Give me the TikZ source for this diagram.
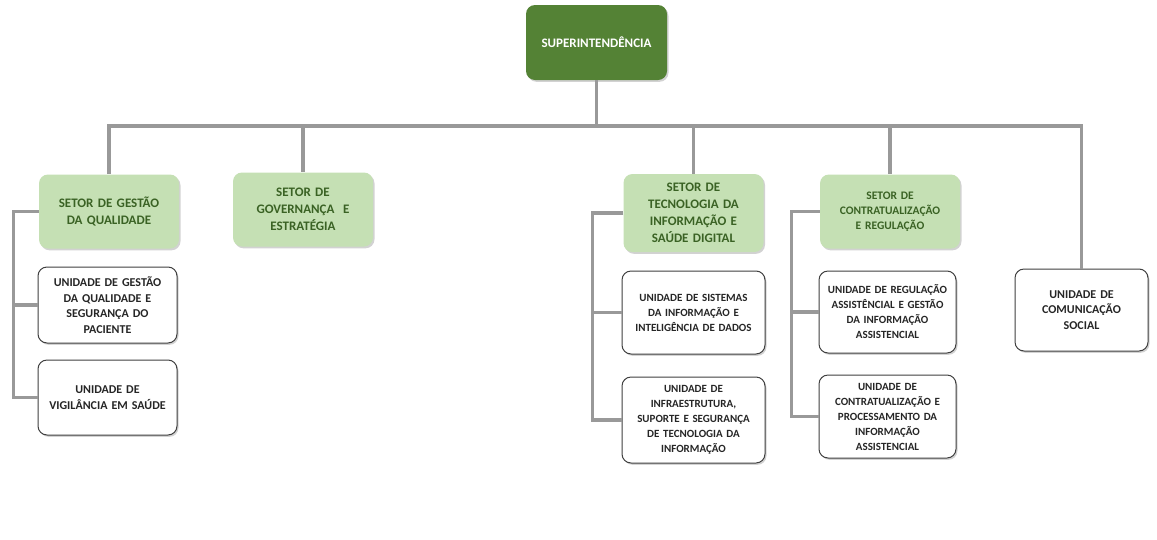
\documentclass[tikz,border=0pt]{standalone}
\usepackage{fontspec}
\setmainfont{Carlito}
\usetikzlibrary{shadows}

\definecolor{darkgreen}{HTML}{548235}
\definecolor{lightgreen}{HTML}{C5E0B4}
\definecolor{sectortext}{HTML}{3A6224}
\definecolor{linkgray}{HTML}{999999}
\definecolor{unittext}{HTML}{262626}

\tikzset{
  box/.style={rounded corners=9pt, align=center, inner sep=2pt,
    drop shadow={shadow xshift=1.5pt, shadow yshift=-1.8pt, opacity=0.35}},
  head/.style={box, fill=darkgreen, text=white, text width=137pt, minimum height=75pt,
    font=\bfseries\fontsize{13}{16}\selectfont},
  sector/.style={box, fill=lightgreen, text=sectortext, text width=136pt, minimum height=74pt,
    font=\bfseries\fontsize{13}{17}\selectfont},
  unit/.style={box, draw=black!75, line width=1pt, fill=white, text=unittext,
    text width=135pt, minimum height=80pt, font=\bfseries\fontsize{11}{15}\selectfont},
  link/.style={draw=linkgray, line width=3.8pt}
}

\begin{document}
\begin{tikzpicture}[x=1pt, y=-1pt]
  \fill[white] (0,0) rectangle (1157,539);
  \useasboundingbox (0,0) rectangle (1157,539);

  \coordinate (hub) at (596.5,126);

  \node[head] (sup) at (596.5,42.5) {SUPERINTENDÊNCIA};

  \node[sector] (sgq) at (109,211.5) {SETOR DE GESTÃO\\DA QUALIDADE};
  \node[sector] (sge) at (303,209.5) {SETOR DE\\GOVERNANÇA\ \ E\\ESTRATÉGIA};
  \node[sector, minimum height=78pt] (sti) at (693.5,213) {SETOR DE\\TECNOLOGIA DA\\INFORMAÇÃO E\\SAÚDE DIGITAL};
  \node[sector, font=\bfseries\fontsize{11.5}{15}\selectfont] (scr) at (890,211.5) {SETOR DE\\CONTRATUALIZAÇÃO\\E REGULAÇÃO};

  \node[unit, minimum height=76pt, font=\bfseries\fontsize{12}{15.5}\selectfont] (uqs) at (107.5,305) {UNIDADE DE GESTÃO\\DA QUALIDADE E\\SEGURANÇA DO\\PACIENTE};
  \node[unit, minimum height=75pt, font=\bfseries\fontsize{12}{15.5}\selectfont] (uvs) at (107.5,397.5) {UNIDADE DE\\VIGILÂNCIA EM SAÚDE};

  \node[unit, text width=139pt, minimum height=83pt] (usi) at (693.5,312.5) {UNIDADE DE SISTEMAS\\DA INFORMAÇÃO E\\INTELIGÊNCIA DE DADOS};
  \node[unit, text width=139pt, minimum height=86pt] (uif) at (693.5,420) {UNIDADE DE\\INFRAESTRUTURA,\\SUPORTE E SEGURANÇA\\DE TECNOLOGIA DA\\INFORMAÇÃO};

  \node[unit, text width=133pt, minimum height=82pt] (ura) at (887.5,312) {UNIDADE DE REGULAÇÃO\\ASSISTÊNCIAL E GESTÃO\\DA INFORMAÇÃO\\ASSISTENCIAL};
  \node[unit, text width=133pt, minimum height=83pt] (ucp) at (887.5,416.5) {UNIDADE DE\\CONTRATUALIZAÇÃO E\\PROCESSAMENTO DA\\INFORMAÇÃO\\ASSISTENCIAL};

  \node[unit, text width=129pt, minimum height=82pt, font=\bfseries\fontsize{12}{15.5}\selectfont] (ucs) at (1081.5,310) {UNIDADE DE\\COMUNICAÇÃO\\SOCIAL};

  \draw[link] (sup.south) -- (hub);
  \foreach \n in {sgq,sge,sti,scr,ucs}
    \draw[link] (hub) -| (\n.north);

  \draw[link] (sgq.west) -| ([xshift=-24pt]uvs.west) -- (uvs.west);
  \draw[link] ([xshift=-24pt]uqs.west) -- (uqs.west);

  \draw[link] (sti.west) -| ([xshift=-29pt]uif.west) -- (uif.west);
  \draw[link] ([xshift=-29pt]usi.west) -- (usi.west);

  \draw[link] (scr.west) -| ([xshift=-27pt]ucp.west) -- (ucp.west);
  \draw[link] ([xshift=-27pt]ura.west) -- (ura.west);
\end{tikzpicture}
\end{document}
